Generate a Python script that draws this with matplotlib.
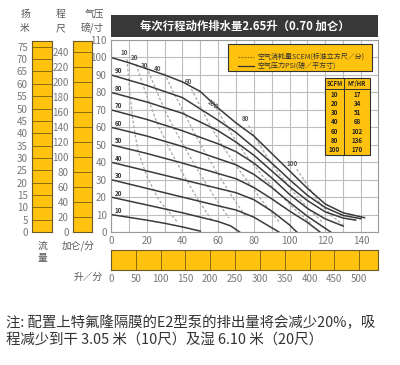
import numpy as np
import matplotlib
matplotlib.use("Agg")
import matplotlib.pyplot as plt
from matplotlib.patches import Rectangle

plt.rcParams['font.family'] = ['Noto Sans CJK SC', 'DejaVu Sans']

# ---- data ----
# air pressure curves (psi): flow in gpm -> head in psi
psi_levels = [10, 20, 30, 40, 50, 60, 70, 80, 90, 100]
psi_x = {
    10: [0, 10, 20, 30, 40, 50],
    20: [0, 20, 40, 60, 67, 72],
    30: [0, 20, 40, 60, 70, 80, 94],
    40: [0, 20, 40, 60, 70, 80, 90, 100, 104],
    50: [0, 20, 40, 60, 70, 80, 90, 100, 110, 117],
    60: [0, 20, 40, 60, 70, 80, 90, 100, 110, 123],
    70: [0, 20, 40, 60, 70, 80, 90, 100, 110, 120, 130],
    80: [0, 20, 40, 60, 70, 80, 90, 100, 110, 120, 130, 137],
    90: [0, 20, 40, 60, 70, 80, 90, 100, 110, 120, 130, 140],
    100: [0, 10, 20, 30, 40, 50, 60, 70, 80, 90, 100, 110, 120, 130, 142],
}
psi_y = {
    10: [10, 8.4, 6.8, 5.0, 2.9, 0.5],
    20: [20, 15.5, 11, 6, 3.5, 0],
    30: [30, 25, 20, 15, 12.6, 8.5, 0],
    40: [40, 35, 30, 25, 22.5, 18.5, 12, 4, 0],
    50: [50, 45, 39.5, 33.5, 30.5, 25.5, 19, 12, 5.5, 0],
    60: [60, 55, 49, 42, 38.5, 33, 25.5, 17, 9, 0],
    70: [70, 64.5, 58, 50.5, 46, 39.5, 31, 21.5, 13.5, 7.5, 3.4],
    80: [80, 74.5, 68, 58, 51.5, 44, 35, 26, 18, 11.5, 8, 6.8],
    90: [90, 84, 77, 64, 57, 48.5, 39.5, 30, 21, 14, 9.5, 7.6],
    100: [100, 97, 93.5, 90, 86, 80.5, 71, 62.5, 55, 45, 35, 25, 16, 11, 8.2],
}

# air consumption curves (SCFM)
scfm_x = [
    [9, 10.5, 12.5, 15, 20, 27, 37],
    [14, 16, 20, 26, 33, 41, 49, 57],
    [21, 25, 30, 36, 42, 50, 58, 66],
    [30, 34, 40, 46, 53, 60, 68, 76],
    [45, 50, 56, 62, 70, 78, 86, 94],
    [59, 64, 70, 77, 85, 94, 104, 112],
    [77, 82, 88, 95, 102, 110, 118],
    [104, 108, 113, 118, 124, 130],
]
scfm_y = [
    [99, 80, 62, 47, 32, 18, 6],
    [96, 90, 78, 62, 47, 32, 18, 6],
    [92, 82, 70, 58, 47, 33, 20, 8],
    [91, 82, 70, 58, 45, 33, 20, 8],
    [82, 72, 60, 50, 38, 27, 16, 6],
    [71, 62, 52, 42, 32, 22, 12, 5],
    [61, 52, 42, 32, 23, 14, 6],
    [36, 30, 22, 15, 9, 4],
]
scfm_labels = ['10', '20', '30', '40', '60', '100', '80', '100']
scfm_label_x = [7.4, 13, 19, 26, 43.6, 57, 75, 101.5]
scfm_label_y = [103, 100, 95.5, 93.5, 86, 73.5, 65, 39.4]
scfm_label_rot = [0, 0, 0, 0, 0, -35, 0, 0]

table_scfm = ['10', '20', '30', '40', '60', '80', '100']
table_m3hr = ['17', '34', '51', '68', '102', '136', '170']

gpm_ticks = list(range(0, 141, 20))
psi_ticks = list(range(0, 111, 10))
m_ticks = list(range(0, 76, 5))
ft_ticks = list(range(0, 241, 20))
lpm_ticks = list(range(0, 501, 50))

title = '每次行程动作排水量2.65升（0.70 加仑）'
legend_texts = ['空气消耗量SCEM(标准立方尺／分)', '空气压力PSI(磅／平方寸)']
note_lines = ['注: 配置上特氟隆隔膜的E2型泵的排出量将会减少20%，吸',
              '程减少到干 3.05 米（10尺）及湿 6.10 米（20尺）']

# ---- layout ----
W, H = 400, 365
yellow = '#FFC20E'
grey_txt = '#777777'
dark = '#333333'


def frac(x0, y0, x1, y1):
    return [x0 / W, 1 - y1 / H, (x1 - x0) / W, (y1 - y0) / H]


fig = plt.figure(figsize=(4.0, 3.65), dpi=100)

# main chart
ax = fig.add_axes(frac(111, 40, 378, 232))
ax.set_xlim(0, 149.5)
ax.set_ylim(0, 110)
ax.set_xticks(gpm_ticks)
ax.set_xticks(range(10, 150, 20), minor=True)
ax.set_yticks(psi_ticks)
ax.grid(True, which='both', color='#bdbdbd', lw=0.8)
ax.set_axisbelow(True)
ax.tick_params(which='both', length=0, labelsize=7, labelcolor=grey_txt, pad=3)
for s in ax.spines.values():
    s.set_color('#9a9a9a')
    s.set_linewidth(0.8)

for xs, ys in zip(scfm_x, scfm_y):
    ax.plot(xs, ys, color='#a8a8a8', lw=0.9, ls=(0, (2.2, 1.6)))
for p in psi_levels:
    ax.plot(psi_x[p], psi_y[p], color='#3a3a3a', lw=1.1)
    if p < 100:
        ax.text(4, p + 2.3, str(p), fontsize=4.5, fontweight='bold',
                style='italic', color='#333', ha='center', va='center')
for t, x, y, r in zip(scfm_labels, scfm_label_x, scfm_label_y, scfm_label_rot):
    ax.text(x, y, t, fontsize=4.5, fontweight='bold', color='#555',
            ha='center', va='center', rotation=r)

# legend box
ax.add_patch(Rectangle((0.438, 0.839), 0.54, 0.14, transform=ax.transAxes,
                       facecolor=yellow, edgecolor=dark, lw=0.8, zorder=5))
ax.plot([0.475, 0.535], [0.912, 0.912], transform=ax.transAxes, color='#8a6a00',
        lw=0.8, ls=(0, (1.5, 1.2)), zorder=6)
ax.plot([0.475, 0.535], [0.865, 0.865], transform=ax.transAxes, color=dark,
        lw=0.9, zorder=6)
for yy, t in zip([0.912, 0.865], legend_texts):
    ax.text(0.55, yy, t, transform=ax.transAxes, fontsize=5, color='#333',
            va='center', ha='left', zorder=6)

# SCFM table
tx0, tx1, tdiv = 0.801, 0.970, 0.874
ty0, ty1, thead = 0.401, 0.802, 0.743
ax.add_patch(Rectangle((tx0, ty0), tx1 - tx0, ty1 - ty0, transform=ax.transAxes,
                       facecolor=yellow, edgecolor=dark, lw=0.8, zorder=5))
ax.plot([tdiv, tdiv], [ty0, ty1], transform=ax.transAxes, color=dark, lw=0.7, zorder=6)
ax.plot([tx0, tx1], [thead, thead], transform=ax.transAxes, color=dark, lw=0.7, zorder=6)
ax.text((tx0 + tdiv) / 2, 0.772, 'SCFM', transform=ax.transAxes, fontsize=4.3,
        fontweight='bold', ha='center', va='center', color='#222', zorder=6)
ax.text((tdiv + tx1) / 2, 0.772, 'M³/HR', transform=ax.transAxes, fontsize=4.3,
        fontweight='bold', ha='center', va='center', color='#222', zorder=6)
row_y = np.linspace(0.714, 0.432, len(table_scfm))
for yy, a, b in zip(row_y, table_scfm, table_m3hr):
    ax.text((tx0 + tdiv) / 2, yy, a, transform=ax.transAxes, fontsize=4.5,
            fontweight='bold', ha='center', va='center', color='#222', zorder=6)
    ax.text((tdiv + tx1) / 2, yy, b, transform=ax.transAxes, fontsize=4.5,
            fontweight='bold', ha='center', va='center', color='#222', zorder=6)

# title band
tax = fig.add_axes(frac(111, 15, 378, 37))
tax.set_facecolor('#383838')
tax.set_xticks([])
tax.set_yticks([])
for s in tax.spines.values():
    s.set_visible(False)
tax.text(0.5, 0.5, title, color='white', fontsize=8.2, fontweight='bold',
         ha='center', va='center', transform=tax.transAxes)


# head scales on the left
def head_bar(box, top, ticks):
    b = fig.add_axes(frac(*box))
    b.set_facecolor(yellow)
    b.set_xlim(0, 1)
    b.set_ylim(0, top)
    b.set_xticks([])
    b.set_yticks(ticks)
    b.tick_params(length=0, labelsize=7, labelcolor=grey_txt, pad=3)
    for t in ticks[1:]:
        b.axhline(t, color='#8a6a10', lw=0.7)
    for s in b.spines.values():
        s.set_color('#6b5a2a')
        s.set_linewidth(0.8)
    return b


head_bar((32, 41, 52, 232), 110 * 0.7031, m_ticks)
head_bar((73, 41, 92, 232), 110 * 2.31, ft_ticks)

# litres per minute bar
lax = fig.add_axes(frac(111, 250, 378, 270))
lax.set_facecolor(yellow)
lax.set_xlim(0, 538)
lax.set_ylim(0, 1)
lax.set_yticks([])
lax.set_xticks(lpm_ticks)
lax.tick_params(length=0, labelsize=7, labelcolor=grey_txt, pad=3)
for t in lpm_ticks[1:]:
    lax.axvline(t, color='#8a6a10', lw=0.7)
for s in lax.spines.values():
    s.set_color('#6b5a2a')
    s.set_linewidth(0.8)

# axis captions
cap = dict(fontsize=7, color='#555', ha='center', va='center')
fig.text(25 / W, 1 - 14 / H, '扬', **cap)
fig.text(25 / W, 1 - 28 / H, '米', **cap)
fig.text(61 / W, 1 - 14 / H, '程', **cap)
fig.text(61 / W, 1 - 28 / H, '尺', **cap)
fig.text(94 / W, 1 - 14 / H, '气压', **cap)
fig.text(92 / W, 1 - 28 / H, '磅/寸', **cap)
fig.text(42 / W, 1 - 246 / H, '流', **cap)
fig.text(42 / W, 1 - 258 / H, '量', **cap)
fig.text(78 / W, 1 - 246 / H, '加仑/分', **cap)
fig.text(88 / W, 1 - 277 / H, '升／分', **cap)

for yy, t in zip([323, 340], note_lines):
    fig.text(6 / W, 1 - yy / H, t, fontsize=10.4, color='#333', ha='left',
             va='center', fontweight='medium')

fig.savefig('out.png', dpi=100)
